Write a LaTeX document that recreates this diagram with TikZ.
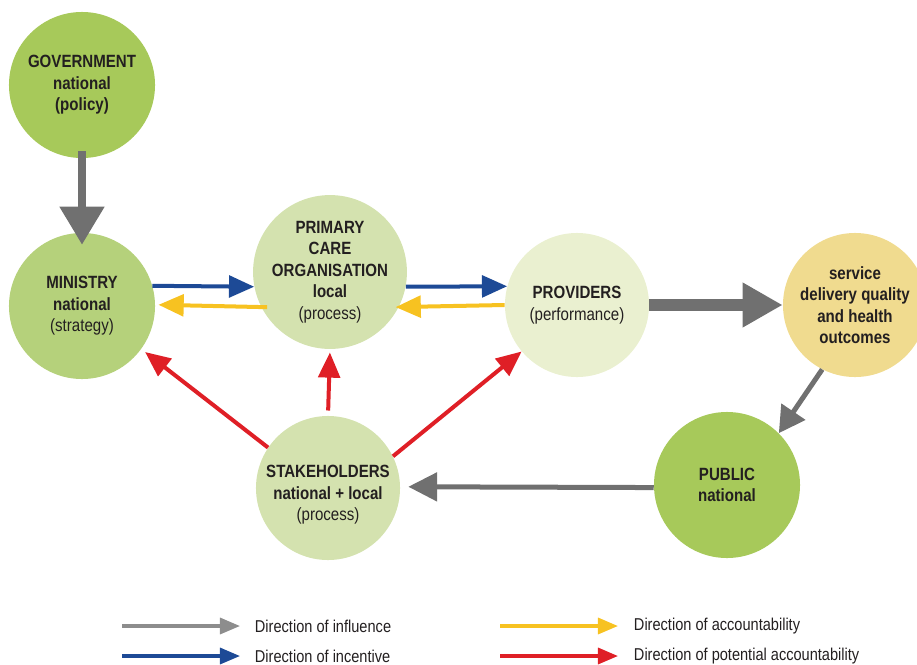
\documentclass[tikz,border=0pt]{standalone}
\usepackage{fontspec}
\setmainfont{Liberation Sans}[FakeStretch=0.85]
\usetikzlibrary{arrows.meta}
\definecolor{govgreen}{HTML}{A7C95A}
\definecolor{mingreen}{HTML}{B5D17B}
\definecolor{palegreen}{HTML}{D4E2AF}
\definecolor{lightgreen}{HTML}{EAF0D0}
\definecolor{sand}{HTML}{F0DB8F}
\definecolor{influence}{HTML}{707070}
\definecolor{incentive}{HTML}{1D4A96}
\definecolor{account}{HTML}{F7C221}
\definecolor{potential}{HTML}{DF1F26}
\definecolor{ink}{HTML}{231F20}

\tikzset{
  actor/.style={circle, minimum size=3.65cm, inner sep=0pt, align=center,
    text=ink, font=\fontsize{12.6}{15.3}\selectfont},
  thinarrow/.style={line width=0.1cm, -{Triangle[length=0.63cm, width=0.54cm]}},
  keyarrow/.style={line width=0.08cm, -{Triangle[length=0.5cm, width=0.4cm]}},
  keytext/.style={anchor=west, text=ink, font=\fontsize{12.2}{14}\selectfont}
}

\begin{document}
\begin{tikzpicture}[x=0.025cm, y=-0.025cm]
\useasboundingbox (0,0) rectangle (917,665);

% actors
\node[actor, fill=govgreen] (gov) at (82,85) {\bfseries GOVERNMENT\\\bfseries national\\\bfseries (policy)};
\node[actor, fill=mingreen] (min) at (82,306) {\bfseries MINISTRY\\\bfseries national\\(strategy)};
\node[actor, fill=palegreen, minimum size=3.6cm] (pco) at (330,272) {\bfseries PRIMARY\\\bfseries CARE\\\bfseries ORGANISATION\\\bfseries local\\(process)};
\node[actor, fill=lightgreen, minimum size=3.6cm] (prov) at (577,305) {\bfseries PROVIDERS\\(performance)};
\node[actor, fill=sand, minimum size=3.6cm] (serv) at (855,305) {\bfseries service\\\bfseries delivery quality\\\bfseries and health\\\bfseries outcomes};
\node[actor, fill=govgreen] (pub) at (727,485) {\bfseries PUBLIC\\\bfseries national};
\node[actor, fill=palegreen, minimum size=3.6cm] (stake) at (328,488) {};
\node[align=center, text=ink, font=\fontsize{12.6}{15.3}\selectfont] (staketxt) at (328,495) {\bfseries STAKEHOLDERS\\\bfseries national + local\\(process)};

% influence
\draw[influence, line width=0.19cm, -{Triangle[length=0.95cm, width=1.08cm]},
  shorten <=-5pt, shorten >=-8.5pt] (gov) -- (min);
\draw[influence, line width=0.3cm, -{Triangle[length=1cm, width=1.05cm]}] (prov.east) -- (serv.west);
\draw[influence, line width=0.125cm, -{Triangle[length=0.65cm, width=0.7cm]}] (serv.-117) -- (pub.45);
\draw[influence, line width=0.125cm, -{Triangle[length=0.72cm, width=0.7cm]}, shorten >=0.2cm] (pub.-178) -- (stake.1);

% incentive
\draw[incentive, thinarrow] (min.16) -- (pco.191);
\draw[incentive, thinarrow] (pco.-11) -- (prov.165);

% accountability
\draw[account, thinarrow, shorten <=-0.15cm, shorten >=0.08cm] (pco.207) -- (min.1);
\draw[account, thinarrow, shorten >=-0.08cm] (prov.180) -- (pco.-27);

% potential accountability
\draw[potential, thinarrow, shorten >=0.12cm] (stake.146) -- (min.-36);
\draw[potential, thinarrow, shorten <=0.13cm, shorten >=0.08cm] (stake.north) -- (pco.south);
\draw[potential, thinarrow] (stake.26) -- (prov.-140);

% key
\coordinate (k1) at (122,626);
\coordinate (k1e) at (240,626);
\coordinate (k2) at (122,656);
\coordinate (k2e) at (240,656);
\coordinate (k3) at (500,626);
\coordinate (k3e) at (618,626);
\coordinate (k4) at (500,656);
\coordinate (k4e) at (618,656);
\draw[influence!80, keyarrow] (k1) -- (k1e);
\draw[incentive, keyarrow] (k2) -- (k2e);
\draw[account, keyarrow] (k3) -- (k3e);
\draw[potential, keyarrow] (k4) -- (k4e);
\node[keytext] (t1) at (250,626) {Direction of influence};
\node[keytext] (t2) at (250,656) {Direction of incentive};
\node[keytext] (t3) at (629,626) {Direction of accountability};
\node[keytext] (t4) at (629,656) {Direction of potential accountability};
\end{tikzpicture}
\end{document}
